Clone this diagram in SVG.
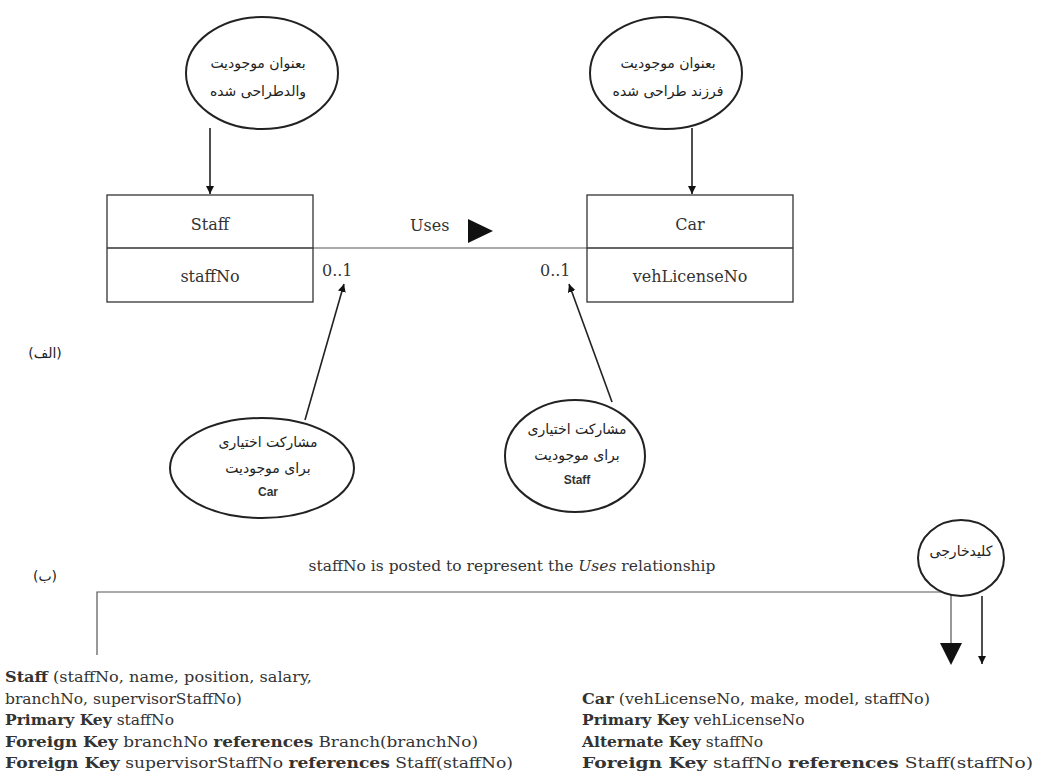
<svg xmlns="http://www.w3.org/2000/svg" width="1038" height="772" viewBox="0 0 1038 772">
<style>
.bg{fill:#fff}
.ell{fill:#fff;stroke:#222;stroke-width:2}
.box{fill:#fff;stroke:#333;stroke-width:1.3}
.ln{fill:none;stroke:#222;stroke-width:1.6}
.thin{fill:none;stroke:#555;stroke-width:1.2}
.fa{font-family:"DejaVu Sans",sans-serif;font-size:14px;fill:#222;text-anchor:middle}
.en{font-family:"Liberation Sans",Arial,sans-serif;font-size:12px;font-weight:bold;fill:#333;text-anchor:middle}
.sr{font-family:"DejaVu Serif","Liberation Serif",serif;font-size:16px;fill:#333}
.mid{text-anchor:middle}
.b{font-weight:bold}
.tx{font-family:"DejaVu Serif","Liberation Serif",serif;font-size:15.5px;fill:#333}
</style>
<defs>
<marker id="ah" viewBox="0 0 10 10" refX="10" refY="5" markerWidth="8" markerHeight="9" orient="auto" markerUnits="userSpaceOnUse">
<path d="M0,0 L10,5 L0,10 z" fill="#111"/>
</marker>
</defs>
<rect class="bg" x="0" y="0" width="1038" height="772"/>

<g id="connectors">
<line class="ln" x1="210" y1="128" x2="210" y2="194" marker-end="url(#ah)"/>
<line class="ln" x1="692" y1="128" x2="692" y2="194" marker-end="url(#ah)"/>
<line class="thin" x1="313" y1="248" x2="587" y2="248"/>
<line class="ln" x1="305" y1="420" x2="344" y2="284" marker-end="url(#ah)"/>
<line class="ln" x1="612" y1="402" x2="569" y2="284" marker-end="url(#ah)"/>
<polyline class="thin" points="97,655 97,592 951,592 951,645"/>
<polygon points="940,643 962,643 951,665" fill="#111"/>
<line class="ln" x1="982" y1="596" x2="982" y2="664" marker-end="url(#ah)"/>
</g>

<g id="parent-note">
<ellipse class="ell" cx="262" cy="73" rx="76" ry="56"/>
<text class="fa" x="258" y="68">بعنوان موجودیت</text>
<text class="fa" x="258" y="96">والدطراحی شده</text>
</g>

<g id="child-note">
<ellipse class="ell" cx="666" cy="73" rx="76" ry="56"/>
<text class="fa" x="668" y="68">بعنوان موجودیت</text>
<text class="fa" x="668" y="96">فرزند طراحی شده</text>
</g>

<g id="staff">
<rect class="box" x="107" y="195" width="206" height="107"/>
<line class="box" x1="107" y1="248" x2="313" y2="248"/>
<text class="sr mid" x="210" y="230">Staff</text>
<text class="sr mid" x="210" y="282">staffNo</text>
</g>

<g id="car">
<rect class="box" x="587" y="195" width="206" height="107"/>
<line class="box" x1="587" y1="248" x2="793" y2="248"/>
<text class="sr mid" x="690" y="230">Car</text>
<text class="sr mid" x="690" y="282">vehLicenseNo</text>
</g>

<g id="uses">
<text class="sr" x="410" y="231">Uses</text>
<polygon points="468,219 493,231 468,243" fill="#111"/>
<text class="sr" x="322" y="276" font-size="15">0..1</text>
<text class="sr" x="540" y="276" font-size="15">0..1</text>
</g>

<g id="car-optional">
<ellipse class="ell" cx="262" cy="468" rx="92" ry="50"/>
<text class="fa" x="268" y="447">مشارکت اختیاری</text>
<text class="fa" x="268" y="473">برای موجودیت</text>
<text class="en" x="268" y="496">Car</text>
</g>

<g id="staff-optional">
<ellipse class="ell" cx="575" cy="456" rx="70" ry="56"/>
<text class="fa" x="577" y="434">مشارکت اختیاری</text>
<text class="fa" x="577" y="460">برای موجودیت</text>
<text class="en" x="577" y="484">Staff</text>
</g>

<g id="fk-note">
<ellipse class="ell" cx="961" cy="558" rx="43" ry="38"/>
<text class="fa" x="961" y="556" font-size="13">کلیدخارجی</text>
</g>

<g id="labels">
<text class="fa" x="45" y="358" font-size="12">(الف)</text>
<text class="fa" x="45" y="581" font-size="12">(ب)</text>
<text class="tx mid" x="512" y="571" font-size="15">staffNo is posted to represent the <tspan font-style="italic">Uses</tspan> relationship</text>
</g>

<g id="staff-relation">
<text class="tx" x="5" y="682" textLength="307" lengthAdjust="spacingAndGlyphs"><tspan class="b">Staff</tspan> (staffNo, name, position, salary,</text>
<text class="tx" x="5" y="704">branchNo, supervisorStaffNo)</text>
<text class="tx" x="5" y="725"><tspan class="b">Primary Key</tspan> staffNo</text>
<text class="tx" x="5" y="747" textLength="473" lengthAdjust="spacingAndGlyphs"><tspan class="b">Foreign Key</tspan> branchNo <tspan class="b">references</tspan> Branch(branchNo)</text>
<text class="tx" x="5" y="768" textLength="508" lengthAdjust="spacingAndGlyphs"><tspan class="b">Foreign Key</tspan> supervisorStaffNo <tspan class="b">references</tspan> Staff(staffNo)</text>
</g>

<g id="car-relation">
<text class="tx" x="582" y="704" textLength="348" lengthAdjust="spacingAndGlyphs"><tspan class="b">Car</tspan> (vehLicenseNo, make, model, staffNo)</text>
<text class="tx" x="582" y="725"><tspan class="b">Primary Key</tspan> vehLicenseNo</text>
<text class="tx" x="582" y="747"><tspan class="b">Alternate Key</tspan> staffNo</text>
<text class="tx" x="582" y="768" textLength="451" lengthAdjust="spacingAndGlyphs"><tspan class="b">Foreign Key</tspan> staffNo <tspan class="b">references</tspan> Staff(staffNo)</text>
</g>
</svg>
